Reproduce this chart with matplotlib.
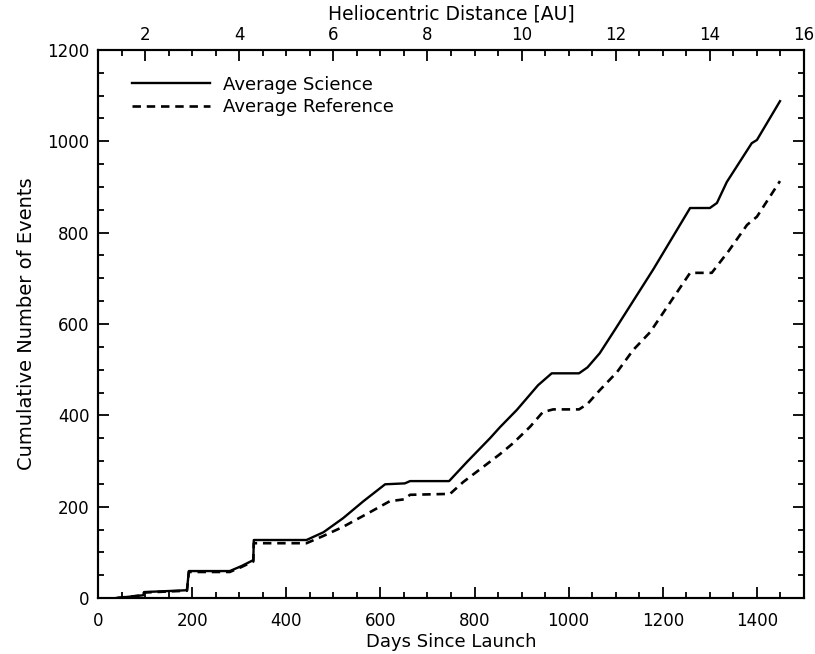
import matplotlib
matplotlib.use("Agg")
import matplotlib.pyplot as plt
from matplotlib.ticker import MultipleLocator

# ---- data ----
days_sci = [40, 96, 98, 189, 193, 280, 305, 330, 331, 443, 479, 521, 564, 610, 652, 663,
            746, 784, 833, 854, 890, 935, 964, 1022, 1040, 1066, 1098, 1180, 1258, 1300,
            1315, 1336, 1389, 1400, 1449]
events_sci = [0, 6, 13, 17, 59, 59, 70, 83, 127, 127, 144, 175, 212, 249, 251, 256,
              256, 298, 350, 374, 412, 466, 492, 492, 505, 536, 587, 720, 854, 854,
              865, 911, 996, 1003, 1088]

days_ref = [40, 96, 98, 189, 193, 280, 305, 330, 331, 443, 479, 521, 578, 620, 650, 663,
            748, 776, 854, 882, 918, 945, 967, 1022, 1040, 1066, 1103, 1137, 1173, 1258,
            1304, 1340, 1379, 1400, 1449]
events_ref = [0, 6, 12, 16, 57, 57, 68, 80, 120, 120, 136, 156, 188, 212, 216, 226,
              228, 254, 315, 339, 375, 407, 413, 413, 425, 455, 495, 543, 582, 712,
              712, 760, 817, 835, 913]

label_sci = "Average Science"
label_ref = "Average Reference"
xlabel = "Days Since Launch"
ylabel = "Cumulative Number of Events"
toplabel = "Heliocentric Distance [AU]"
x_range = (0, 1500)
y_range = (0, 1200)
au_range = (1, 16)

plt.rcParams['font.family'] = ['DejaVu Sans']
plt.rcParams['font.size'] = 12

fig = plt.figure(figsize=(8.15, 6.54), dpi=100)
ax = fig.add_axes([98/815, 1-598/654, 706/815, 548/654])

ax.plot(days_sci, events_sci, color='black', lw=1.7, label=label_sci)
ax.plot(days_ref, events_ref, color='black', lw=1.9, dashes=(3.2, 2.2), label=label_ref)

ax.set_xlim(*x_range)
ax.set_ylim(*y_range)
ax.xaxis.set_major_locator(MultipleLocator(200))
ax.xaxis.set_minor_locator(MultipleLocator(50))
ax.yaxis.set_major_locator(MultipleLocator(200))
ax.yaxis.set_minor_locator(MultipleLocator(50))

for sp in ax.spines.values():
    sp.set_linewidth(1.5)

ax.tick_params(axis='both', which='both', direction='in', width=1.3, colors='black')
ax.tick_params(axis='x', which='major', length=8, pad=10)
ax.tick_params(axis='x', which='minor', length=4)
ax.tick_params(axis='y', which='major', length=8, pad=6, right=True)
ax.tick_params(axis='y', which='minor', length=4, right=True)
ax.tick_params(axis='x', top=False)

ax.set_xlabel(xlabel, fontsize=13, labelpad=2)
ax.set_ylabel(ylabel, fontsize=14, labelpad=8)

ax2 = ax.twiny()
ax2.set_xlim(*au_range)
ax2.xaxis.set_major_locator(MultipleLocator(2))
ax2.xaxis.set_minor_locator(MultipleLocator(0.5))
ax2.tick_params(axis='x', which='both', direction='in', width=1.3, top=True, bottom=False)
ax2.tick_params(axis='x', which='major', length=8, pad=4)
ax2.tick_params(axis='x', which='minor', length=4)
ax2.set_xlabel(toplabel, fontsize=13.5, labelpad=5)
for sp in ax2.spines.values():
    sp.set_linewidth(1.5)

leg = ax.legend(loc='upper left', bbox_to_anchor=(0.048, 0.953), frameon=False,
                borderpad=0, borderaxespad=0, handlelength=4.3, handletextpad=0.72,
                labelspacing=0.25, fontsize=13)

fig.savefig("out.png", dpi=100)
